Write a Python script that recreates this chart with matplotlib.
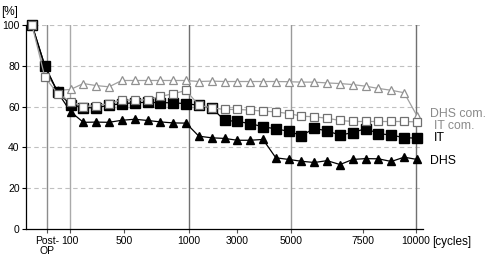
import matplotlib
matplotlib.use("Agg")
import matplotlib.pyplot as plt

plt.rcParams['font.family'] = ['Liberation Sans', 'DejaVu Sans']

# measurement steps (index on the category axis)
steps = list(range(31))

# series values [%]
dhs_com = [100, 77, 68, 68.4, 71.3, 70.3, 69.7, 72.8, 72.8, 72.8, 72.8, 72.8, 72.8,
           72.3, 72.5, 72.3, 72.3, 72.3, 72.3, 72.3, 72.2, 72, 72, 71.6, 71.3,
           70.8, 70, 68.9, 68, 66.8, 55.5]
it_com = [100, 74.4, 66.4, 62.5, 60, 60.5, 61.4, 63.3, 63.1, 63.4, 65, 66.3, 67.9,
          60.7, 59.4, 58.6, 58.6, 58.3, 57.8, 57.4, 56.6, 55.3, 55, 54.3, 53.2,
          52.7, 52.7, 52.7, 52.7, 52.7, 52.5]
it = [100, 80, 67, 61, 59.5, 59.4, 60.7, 61.4, 61.9, 62.1, 61.9, 61.9, 61.4,
      60.7, 59.4, 53.3, 52.7, 51.7, 50.1, 49.1, 47.9, 45.8, 49.3, 48.1, 46,
      47.3, 49.2, 46.8, 46, 44.8, 44.5]
dhs = [100, 80, 67, 57.5, 52.3, 52.4, 52.3, 53.3, 53.8, 53.2, 52.5, 52, 51.9,
       45.5, 44.7, 44.4, 43.5, 43.5, 43.9, 34.9, 34.1, 33.2, 32.6, 33.5, 31.6,
       34.1, 34.5, 34.4, 33.1, 35.2, 34.1]

# x tick labels and where they sit on the step axis
tick_pos = [1.15, 2.96, 7.17, 12.24, 15.98, 20.19, 25.78, 29.93]
tick_lab = ["Post-\nOP", "100", "500", "1000", "3000", "5000", "7500", "10000"]

# vertical reference lines
vlines = [1.15, 2.96, 12.24, 20.19, 29.93]
vcols = ["#8c8c8c", "#aaaaaa", "#707070", "#9a9a9a", "#707070"]

fig = plt.figure(figsize=(4.88, 2.56), dpi=100)
ax = fig.add_axes([26/488, 1-229/256, (423-26)/488, (229-25)/256])

for y in [20, 40, 60, 80, 100]:
    ax.axhline(y, color="#c0c0c0", lw=0.8, ls=(0, (4, 3)), zorder=0)
for xv, c in zip(vlines, vcols):
    ax.axvline(xv, color=c, lw=1.0, zorder=1)

ax.plot(steps, dhs_com, color="#a0a0a0", lw=0.9, marker="^", ms=5.5,
        mfc="white", mec="#909090", mew=0.9, clip_on=False, zorder=3)
ax.plot(steps, dhs, color="black", lw=0.9, marker="^", ms=5.5,
        mfc="black", mec="black", clip_on=False, zorder=4)
ax.plot(steps, it, color="black", lw=0.9, marker="s", ms=6.5,
        mfc="black", mec="black", clip_on=False, zorder=5)
ax.plot(steps, it_com, color="#a0a0a0", lw=0.9, marker="s", ms=5.2,
        mfc="white", mec="#707070", mew=0.9, clip_on=False, zorder=6)

ax.set_xlim(-0.47, 30.47)
ax.set_ylim(0, 100)
ax.set_yticks([0, 20, 40, 60, 80, 100])
ax.set_xticks(tick_pos)
ax.set_xticklabels(tick_lab, fontsize=7.5, linespacing=0.95)
ax.get_xticklabels()[0].set_x(0.95)
ax.tick_params(axis="y", labelsize=7.5, length=3, width=0.8, pad=1.5)
ax.tick_params(axis="x", length=3, width=0.8, pad=2, colors="#555555", labelcolor="black")
for s in ["top", "right"]:
    ax.spines[s].set_visible(False)
ax.spines["left"].set_linewidth(0.9)
ax.spines["bottom"].set_linewidth(0.9)

fig.text(1/488, 1-12/256, "[%]", fontsize=8.5, va="center", ha="left")
fig.text(432/488, 1-242/256, "[cycles]", fontsize=8.5, va="center", ha="left")

fig.text(430/488, 1-114/256, "DHS com.", fontsize=8.8, color="#8a8a8a", va="center")
fig.text(434/488, 1-126/256, "IT com.", fontsize=8.8, color="#8a8a8a", va="center")
fig.text(434/488, 1-138/256, "IT", fontsize=9, color="black", va="center")
fig.text(430/488, 1-161/256, "DHS", fontsize=8.8, color="black", va="center")

fig.savefig("out.png", dpi=100)
